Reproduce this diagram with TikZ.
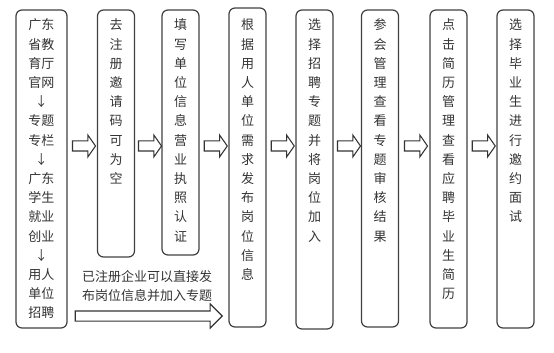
\documentclass[tikz,border=0pt]{standalone}
\usepackage{fontspec}
\setmainfont{Noto Sans CJK SC}
\usetikzlibrary{shapes.arrows, positioning, calc}

\begin{document}
\begin{tikzpicture}[
    x=0.75pt, y=-0.75pt,
    stage/.style={rectangle, draw=black!75, rounded corners=4.5pt, line width=0.9pt, minimum width=27.75pt, inner sep=0pt, outer sep=0pt, anchor=north},
    words/.style={align=center, inner sep=0pt, outer sep=0pt, anchor=north, text=black!80, font=\fontsize{9.75}{14.4}\selectfont},
    push/.style={single arrow, draw=black!80, line width=0.8pt, inner sep=0pt, text height=6.75pt, text depth=0pt, minimum width=15.75pt, minimum height=17.25pt, single arrow head extend=4.5pt, single arrow tip angle=110}
]
\useasboundingbox (0,0) rectangle (554,353);

% Stages
\node[stage, minimum width=38.25pt, minimum height=238.5pt] (s1) at (41.5,10) {};
\node[stage, minimum height=185.25pt] (s2) at (116,10) {};
\node[stage, minimum height=183.75pt] (s3) at (180.5,10) {};
\node[stage, minimum height=239.25pt] (s4) at (247.5,8) {};
\node[stage, minimum height=239.25pt] (s5) at (314.5,10) {};
\node[stage, minimum height=237.75pt] (s6) at (380,10) {};
\node[stage, minimum height=238.5pt] (s7) at (448.5,10) {};
\node[stage, minimum height=238.5pt] (s8) at (515.5,10) {};

% Texts
\node[words, below=6.75pt of s1.north] (w1) {广东\\省教\\育厅\\官网\\↓\\专题\\专栏\\↓\\广东\\学生\\就业\\创业\\↓\\用人\\单位\\招聘};
\node[words, below=6.75pt of s2.north] (w2) {去\\注\\册\\邀\\请\\码\\可\\为\\空};
\node[words, below=6.75pt of s3.north] (w3) {填\\写\\单\\位\\信\\息\\营\\业\\执\\照\\认\\证};
\node[words, below=8.25pt of s4.north] (w4) {根\\据\\用\\人\\单\\位\\需\\求\\发\\布\\岗\\位\\信\\息};
\node[words, below=6.75pt of s5.north] (w5) {选\\择\\招\\聘\\专\\题\\并\\将\\岗\\位\\加\\入};
\node[words, below=6.75pt of s6.north] (w6) {参\\会\\管\\理\\查\\看\\专\\题\\审\\核\\结\\果};
\node[words, below=6.75pt of s7.north] (w7) {点\\击\\简\\历\\管\\理\\查\\看\\应\\聘\\毕\\业\\生\\简\\历};
\node[words, below=6.75pt of s8.north] (w8) {选\\择\\毕\\业\\生\\进\\行\\邀\\约\\面\\试};

% Step arrows
\coordinate (mid) at (0,146);
\foreach \a/\b in {s1/s2, s2/s3, s3/s4, s4/s5, s5/s6, s6/s7, s7/s8} {
  \coordinate (\a-gap) at ($(\a.east)!0.5!(\b.west)$);
  \node[push] (\a-\b) at (\a-gap |- mid) {};
}

% Direct path for registered companies
\coordinate (low) at (s4.west |- 0,316);
\node[push, minimum width=17.25pt, minimum height=110.25pt, single arrow head extend=5.25pt, single arrow tip angle=90, anchor=tip] (direct) at ([xshift=-4.5pt]low) {};
\node[words] (note) at (147,270.5) {已注册企业可以直接发\\布岗位信息并加入专题};

\end{tikzpicture}
\end{document}
